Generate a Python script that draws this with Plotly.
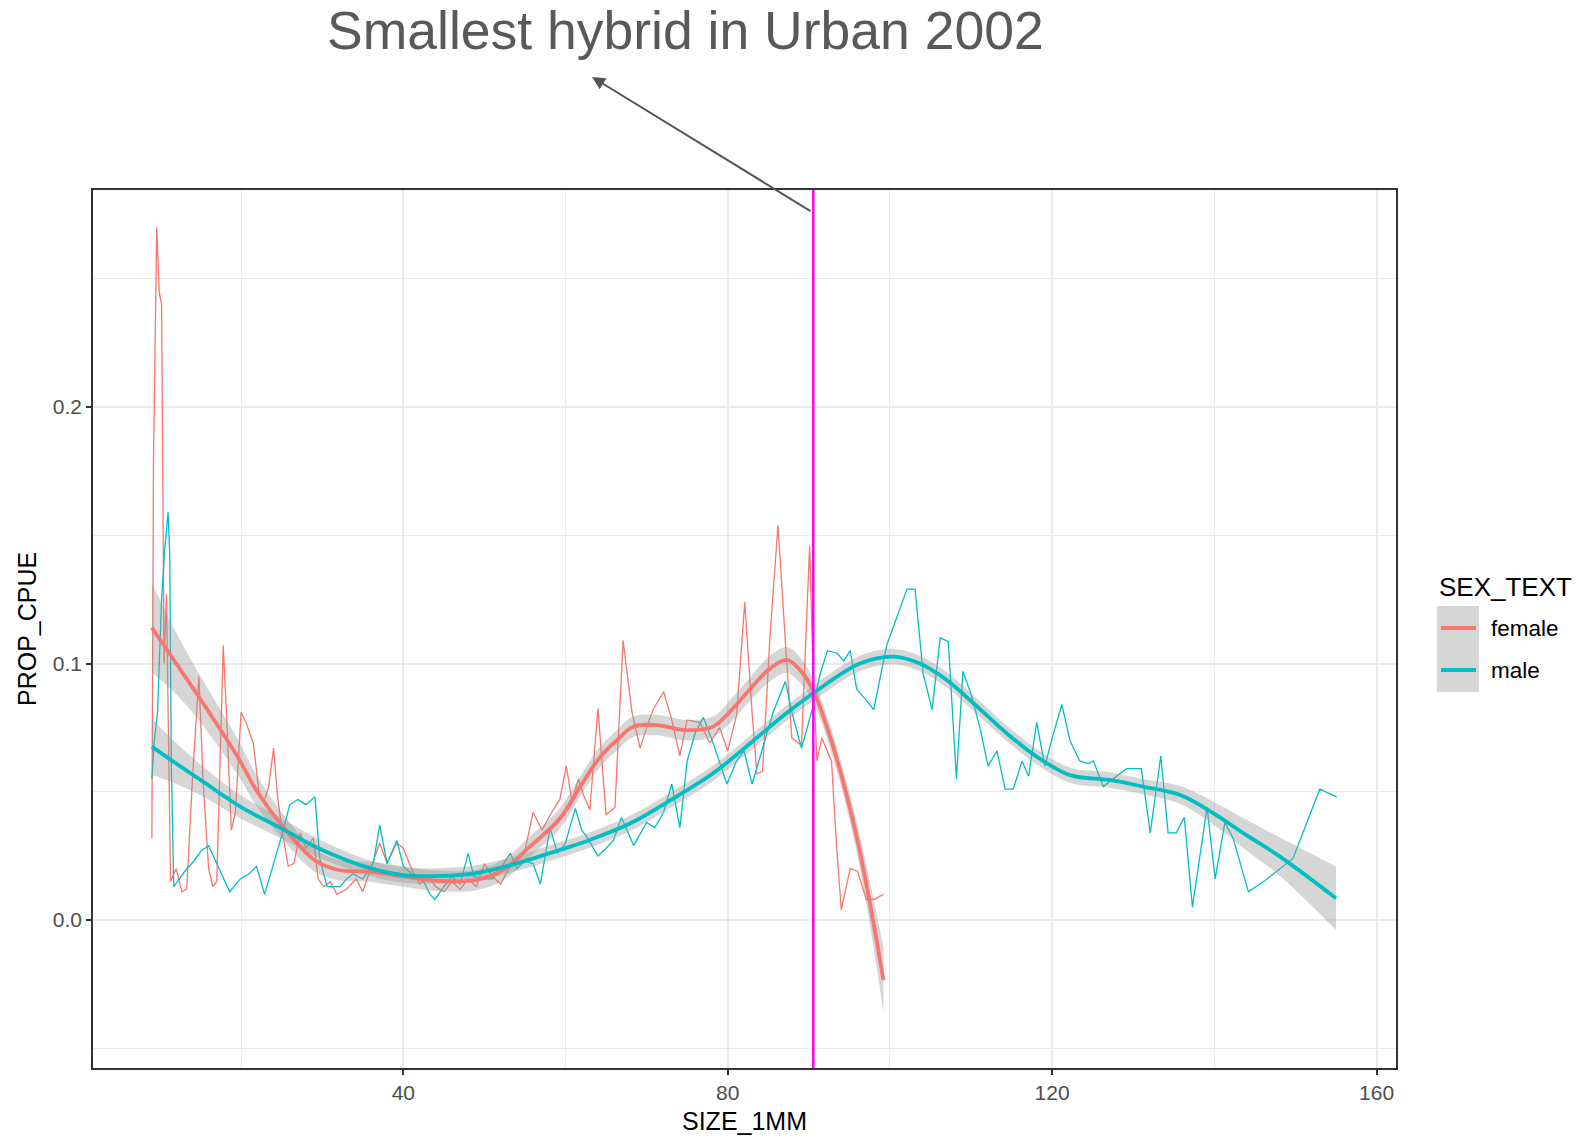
import plotly.graph_objects as go

# ---- raw proportion of CPUE by 1 mm size class ----
female_size = [9.0, 9.2, 9.6, 9.9, 10.2, 10.5, 10.8, 11.3, 12.0, 12.7, 13.3, 14.0, 14.8, 15.3, 16.0, 16.5,
               17.0, 17.8, 18.2, 18.8, 19.3, 20.0, 20.6, 21.5, 22.2, 22.8, 23.4, 24.0, 24.5, 25.0, 25.8,
               26.5, 27.3, 28.0, 28.9, 29.5, 30.2, 31.0, 31.8, 33.0, 34.2, 35.0, 36.3, 37.1, 38.0, 39.2,
               40.0, 41.0, 42.0, 43.0, 44.0, 45.0, 46.0, 47.0, 48.0, 49.0, 50.0, 51.0, 52.0, 53.0, 54.0,
               55.0, 56.0, 57.1, 58.3, 59.3, 60.1, 60.8, 61.6, 62.3, 63.0, 64.0, 65.0, 66.1, 67.1, 68.2,
               69.2, 70.0, 70.8, 72.1, 73.1, 74.1, 75.0, 76.6, 77.8, 79.0, 80.0, 81.1, 82.1, 83.0, 83.6,
               84.3, 85.2, 86.2, 87.1, 87.9, 89.1, 89.9, 90.1, 90.5, 91.0, 91.6, 92.3, 92.8, 93.4, 94.0,
               95.1, 96.0, 97.1, 98.0, 99.2]
female_prop = [0.032, 0.180, 0.270, 0.245, 0.240, 0.100, 0.127, 0.015, 0.020, 0.011, 0.012, 0.055, 0.095,
               0.055, 0.020, 0.013, 0.015, 0.107, 0.080, 0.035, 0.042, 0.081, 0.077, 0.069, 0.050, 0.046,
               0.052, 0.067, 0.048, 0.036, 0.021, 0.022, 0.034, 0.028, 0.032, 0.016, 0.013, 0.015, 0.010,
               0.012, 0.016, 0.011, 0.023, 0.030, 0.022, 0.030, 0.028, 0.020, 0.014, 0.017, 0.013, 0.011,
               0.015, 0.012, 0.016, 0.013, 0.022, 0.017, 0.014, 0.020, 0.024, 0.027, 0.042, 0.035, 0.042,
               0.047, 0.060, 0.046, 0.055, 0.048, 0.043, 0.0825, 0.041, 0.044, 0.109, 0.081, 0.067, 0.075,
               0.082, 0.089, 0.078, 0.064, 0.078, 0.077, 0.069, 0.075, 0.066, 0.080, 0.124, 0.081, 0.057,
               0.058, 0.110, 0.154, 0.109, 0.071, 0.068, 0.133, 0.146, 0.100, 0.062, 0.071, 0.066, 0.062,
               0.030, 0.004, 0.020, 0.019, 0.008, 0.008, 0.010]

male_size = [9.0, 9.3, 9.7, 10.2, 10.6, 11.0, 11.2, 11.4, 11.7, 12.4, 13.3, 14.2, 15.1, 16.0, 17.0, 18.0,
             18.6, 19.9, 21.0, 21.9, 22.9, 24.0, 25.2, 26.0, 27.0, 28.0, 29.1, 29.7, 30.6, 31.5, 32.2,
             33.0, 33.8, 35.0, 36.3, 37.1, 38.0, 39.2, 40.0, 41.0, 42.5, 43.3, 43.9, 45.0, 46.0, 47.0,
             48.0, 48.7, 50.0, 51.0, 52.0, 53.2, 54.0, 55.0, 56.0, 56.9, 58.1, 59.0, 60.0, 61.2, 62.0,
             62.6, 64.0, 65.0, 65.9, 66.9, 68.4, 70.0, 71.0, 72.1, 73.1, 74.1, 75.0, 76.0, 77.0, 78.2,
             79.9, 81.1, 82.0, 83.0, 84.2, 85.6, 87.1, 88.0, 89.1, 90.5, 91.4, 92.3, 93.5, 94.3, 95.1,
             95.9, 97.0, 98.0, 99.6, 102.1, 103.1, 104.1, 105.2, 106.2, 107.2, 108.2, 109.0, 110.0,
             111.1, 112.1, 113.2, 114.2, 115.2, 116.3, 117.1, 118.1, 119.1, 120.1, 121.2, 122.2, 123.4,
             124.5, 125.1, 126.3, 127.5, 129.2, 131.0, 132.1, 133.4, 134.3, 135.3, 136.3, 137.3, 139.1,
             140.1, 141.3, 142.3, 144.2, 146.5, 149.7, 153.0, 155.1]
male_prop = [0.055, 0.070, 0.081, 0.125, 0.145, 0.159, 0.143, 0.060, 0.013, 0.016, 0.020, 0.023, 0.027,
             0.029, 0.022, 0.015, 0.011, 0.016, 0.018, 0.021, 0.010, 0.022, 0.035, 0.045, 0.047, 0.045,
             0.048, 0.024, 0.013, 0.013, 0.013, 0.016, 0.018, 0.016, 0.022, 0.037, 0.022, 0.031, 0.021,
             0.018, 0.015, 0.010, 0.008, 0.013, 0.017, 0.014, 0.026, 0.017, 0.016, 0.016, 0.020, 0.026,
             0.020, 0.023, 0.022, 0.014, 0.036, 0.026, 0.030, 0.0435, 0.035, 0.0325, 0.025, 0.028, 0.031,
             0.040, 0.029, 0.038, 0.036, 0.042, 0.053, 0.036, 0.062, 0.073, 0.079, 0.069, 0.053, 0.062,
             0.066, 0.053, 0.066, 0.081, 0.093, 0.080, 0.067, 0.083, 0.096, 0.105, 0.104, 0.101, 0.105,
             0.090, 0.086, 0.082, 0.107, 0.129, 0.129, 0.096, 0.082, 0.110, 0.1085, 0.055, 0.097, 0.088,
             0.075, 0.060, 0.066, 0.051, 0.051, 0.062, 0.056, 0.077, 0.060, 0.072, 0.084, 0.070, 0.062,
             0.061, 0.062, 0.052, 0.055, 0.059, 0.059, 0.034, 0.064, 0.034, 0.034, 0.040, 0.005, 0.044,
             0.016, 0.038, 0.032, 0.011, 0.016, 0.024, 0.051, 0.048]

# ---- loess fits with their standard-error bands ----
female_fit_size = [9, 12, 15, 19.5, 22, 25, 29, 32, 36, 40, 44.5, 49, 52.3, 55.6, 59.3, 62, 64.3, 66.3,
                   68.4, 71.2, 75, 78.2, 80.5, 82.3, 85.2, 87.3, 88.9, 90.5, 93, 96, 99.2]
female_fit = [0.114, 0.100, 0.086, 0.064, 0.050, 0.037, 0.0235, 0.0195, 0.0188, 0.0170, 0.0152, 0.0156,
              0.0195, 0.0286, 0.0396, 0.0530, 0.0637, 0.070, 0.0754, 0.0760, 0.0740, 0.0754, 0.082,
              0.0884, 0.098, 0.1014, 0.0975, 0.0897, 0.0676, 0.031, -0.0234]
female_band = [0.0175, 0.012, 0.009, 0.007, 0.006, 0.005, 0.0045, 0.004, 0.004, 0.004, 0.004, 0.004,
               0.004, 0.004, 0.004, 0.004, 0.004, 0.004, 0.004, 0.004, 0.004, 0.004, 0.0045, 0.0045,
               0.005, 0.005, 0.005, 0.0045, 0.0045, 0.006, 0.0125]

male_fit_size = [9, 12, 15, 20, 25, 30, 36, 40, 44.5, 49, 54, 59.3, 63, 68, 73.3, 78.2, 83.2, 87, 90.8,
                 96.3, 100.4, 103.7, 107, 110.3, 114.4, 118.1, 122.2, 127.1, 131.2, 135.8, 139.9, 144,
                 148.1, 155]
male_fit = [0.0676, 0.061, 0.0546, 0.044, 0.0357, 0.0273, 0.0201, 0.0175, 0.0172, 0.0183, 0.0221, 0.0273,
            0.0312, 0.0377, 0.0474, 0.0572, 0.070, 0.080, 0.089, 0.100, 0.1027, 0.100, 0.0936, 0.0845,
            0.0728, 0.0637, 0.0565, 0.0546, 0.052, 0.0487, 0.0416, 0.033, 0.0247, 0.0085]
male_band = [0.011, 0.008, 0.006, 0.0045, 0.004, 0.0035, 0.003, 0.003, 0.003, 0.003, 0.003, 0.003, 0.003,
             0.003, 0.003, 0.003, 0.003, 0.003, 0.003, 0.003, 0.003, 0.003, 0.003, 0.003, 0.003, 0.003,
             0.003, 0.003, 0.003, 0.0035, 0.0045, 0.006, 0.0075, 0.0124]

hybrid_size = 90.55
sex_labels = ["female", "male"]
x_ticks = [40, 80, 120, 160]
y_ticks = [0.0, 0.1, 0.2]

# ---- styling ----
COLORS = {"female": "#F8766D", "male": "#00BFC4"}
RIBBON = "rgba(153,153,153,0.4)"
FONT = "Liberation Sans, Arial, sans-serif"
W, H = 1580, 1138
PL, PR, PT, PB = 93, 1396, 190, 1068


def px_x(p):
    return (p - PL) / (PR - PL)


def px_y(p):
    return (PB - p) / (PB - PT)


fig = go.Figure()

raw = {"female": (female_size, female_prop), "male": (male_size, male_prop)}
fits = {"female": (female_fit_size, female_fit, female_band),
        "male": (male_fit_size, male_fit, male_band)}

for sex in sex_labels:
    xs, ys = raw[sex]
    fig.add_trace(go.Scatter(x=xs, y=ys, mode="lines", showlegend=False,
                             line=dict(color=COLORS[sex], width=1.3), hoverinfo="skip"))

for sex in sex_labels:
    xs, fit, band = fits[sex]
    lower = [f - b for f, b in zip(fit, band)]
    upper = [f + b for f, b in zip(fit, band)]
    fig.add_trace(go.Scatter(x=xs, y=lower, mode="lines", showlegend=False,
                             line=dict(width=0, shape="spline"), hoverinfo="skip"))
    fig.add_trace(go.Scatter(x=xs, y=upper, mode="lines", showlegend=False, fill="tonexty",
                             fillcolor=RIBBON, line=dict(width=0, shape="spline"), hoverinfo="skip"))

for sex in sex_labels:
    xs, fit, band = fits[sex]
    fig.add_trace(go.Scatter(x=xs, y=fit, mode="lines", showlegend=False,
                             line=dict(color=COLORS[sex], width=3.8, shape="spline"), hoverinfo="skip"))

grid = "#EBEBEB"
axis_common = dict(showline=True, mirror=True, linecolor="#333333", linewidth=1.5,
                   ticks="outside", ticklen=5, tickwidth=1.5, tickcolor="#333333",
                   showgrid=True, gridcolor=grid, gridwidth=1.5, zeroline=False,
                   tickfont=dict(family=FONT, size=21, color="#4D4D4D"))

fig.update_xaxes(range=[1.74, 162.4], tickvals=x_ticks,
                 minor=dict(tickvals=[20, 60, 100, 140], showgrid=True, gridcolor=grid, gridwidth=1,
                            ticks=""),
                 **axis_common)
fig.update_yaxes(range=[-0.0577, 0.2846], tickvals=y_ticks, tickformat=".1f",
                 minor=dict(tickvals=[-0.05, 0.05, 0.15, 0.25], showgrid=True, gridcolor=grid,
                            gridwidth=1, ticks=""),
                 **axis_common)

shapes = [
    dict(type="line", xref="x", yref="paper", x0=hybrid_size, x1=hybrid_size, y0=0, y1=1,
         line=dict(color="#FF00FF", width=2.5), layer="above"),
    # legend key background
    dict(type="rect", xref="paper", yref="paper", x0=px_x(1437), x1=px_x(1479),
         y0=px_y(692), y1=px_y(606), fillcolor="#D6D6D6", line=dict(width=0)),
    dict(type="line", xref="paper", yref="paper", x0=px_x(1441), x1=px_x(1476),
         y0=px_y(628), y1=px_y(628), line=dict(color=COLORS["female"], width=4)),
    dict(type="line", xref="paper", yref="paper", x0=px_x(1441), x1=px_x(1476),
         y0=px_y(670), y1=px_y(670), line=dict(color=COLORS["male"], width=4)),
]

annotations = [
    dict(text="Smallest hybrid in Urban 2002", xref="paper", yref="paper", x=px_x(685), y=px_y(31),
         xanchor="center", yanchor="middle", showarrow=False,
         font=dict(family=FONT, size=53.5, color="#595959")),
    dict(text="", xref="paper", yref="paper", x=px_x(592), y=px_y(77), ax=220, ay=135,
         showarrow=True, arrowhead=2, arrowsize=1.3, arrowwidth=2, arrowcolor="#555555",
         standoff=0, startstandoff=0),
    dict(text="SIZE_1MM", xref="paper", yref="paper", x=px_x(744), y=px_y(1121), xanchor="center",
         yanchor="middle", showarrow=False, font=dict(family=FONT, size=25, color="#000000")),
    dict(text="PROP_CPUE", xref="paper", yref="paper", x=px_x(27), y=0.5, xanchor="center",
         yanchor="middle", textangle=-90, showarrow=False,
         font=dict(family=FONT, size=25, color="#000000")),
    dict(text="SEX_TEXT", xref="paper", yref="paper", x=px_x(1437), y=px_y(587), xanchor="left",
         yanchor="middle", showarrow=False, font=dict(family=FONT, size=26, color="#000000")),
]
for sex, ypx in zip(sex_labels, [628, 670]):
    annotations.append(dict(text=sex, xref="paper", yref="paper", x=px_x(1489), y=px_y(ypx),
                            xanchor="left", yanchor="middle", showarrow=False,
                            font=dict(family=FONT, size=22.5, color="#000000")))

fig.update_layout(width=W, height=H, margin=dict(l=PL, r=W - PR, t=PT, b=H - PB),
                  paper_bgcolor="white", plot_bgcolor="white", showlegend=False,
                  shapes=shapes, annotations=annotations)

fig.write_html("out.html")
